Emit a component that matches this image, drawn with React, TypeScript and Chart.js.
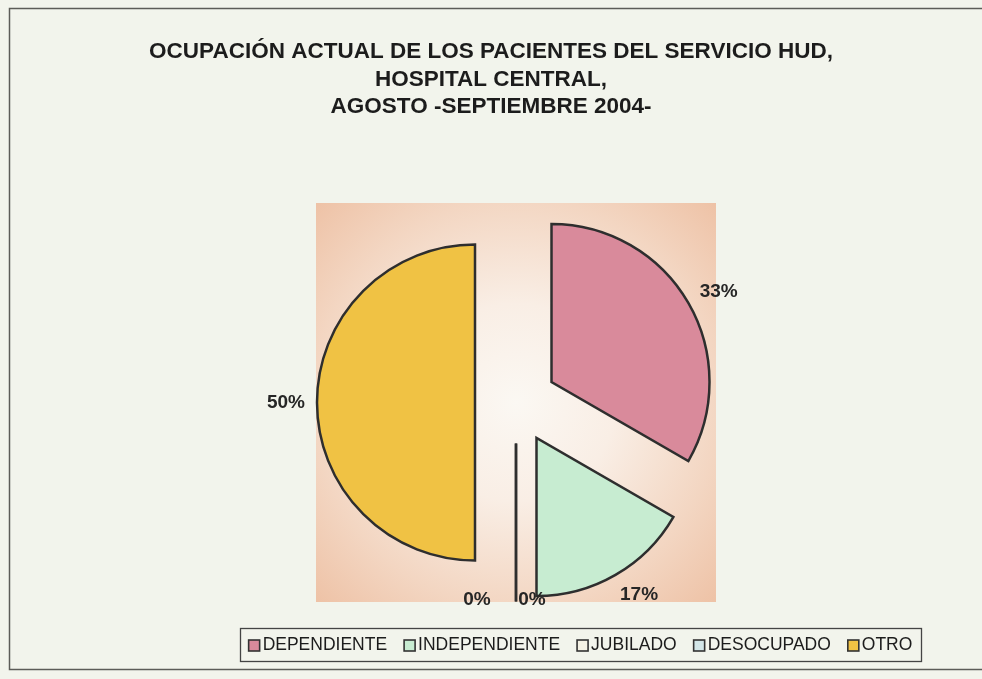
import React, { useEffect, useRef } from 'react';
import { Chart, registerables } from 'chart.js';

Chart.register(...registerables);

// ---- data ----
const TITLE_LINES = [
  'OCUPACIÓN ACTUAL DE LOS PACIENTES DEL SERVICIO HUD,',
  'HOSPITAL CENTRAL,',
  'AGOSTO -SEPTIEMBRE 2004-',
];
const CATEGORIES = ['DEPENDIENTE', 'INDEPENDIENTE', 'JUBILADO', 'DESOCUPADO', 'OTRO'];
const PATIENTS = [2, 1, 0, 0, 3];
const SLICE_COLORS = ['#d98a9b', '#c7ecd1', '#f4f1e4', '#d3e6e8', '#f0c244'];

// ---- style ----
const W = 982;
const H = 679;
const EXPLODE = 41; // px each slice is pulled out from the centre
const RADIUS = 158;
const LABEL_PAD = 16;
const LABEL_NUDGE_X = [0, 6, -39, 16, 4];
const FONT = '"Liberation Sans", Arial, Helvetica, sans-serif';

const decorPlugin = {
  id: 'decor',
  afterDatasetUpdate(chart: any, args: any) {
    // explode every slice outward along its mid angle
    args.meta.data.forEach((el: any) => {
      const mid = (el.startAngle + el.endAngle) / 2;
      el.x += Math.cos(mid) * EXPLODE;
      el.y += Math.sin(mid) * EXPLODE;
    });
  },
  beforeDraw(chart: any) {
    const { ctx, chartArea: a } = chart;
    ctx.save();
    ctx.fillStyle = '#f2f4ec';
    ctx.fillRect(0, 0, W, H);
    // outer frame
    ctx.strokeStyle = '#5c5c58';
    ctx.lineWidth = 1.5;
    ctx.strokeRect(9.5, 8.5, W + 10, H - 18);
    // plot area with radial gradient
    const cx = (a.left + a.right) / 2;
    const cy = (a.top + a.bottom) / 2;
    const g = ctx.createRadialGradient(cx, cy, 0, cx, cy, Math.hypot(a.width, a.height) / 2);
    g.addColorStop(0, '#fbf8f3');
    g.addColorStop(0.35, '#f9eee5');
    g.addColorStop(0.72, '#f3d6c2');
    g.addColorStop(1, '#eec2a6');
    ctx.fillStyle = g;
    ctx.fillRect(a.left, a.top, a.width, a.height);
    ctx.restore();
  },
  afterDatasetsDraw(chart: any) {
    // zero-value slices are drawn as a single radial line
    const { ctx } = chart;
    const meta = chart.getDatasetMeta(0);
    ctx.save();
    ctx.strokeStyle = '#2e2e2e';
    ctx.lineWidth = 2.5;
    meta.data.forEach((el: any) => {
      if (el.endAngle - el.startAngle === 0) {
        const ang = el.startAngle;
        const c = Math.cos(ang), s = Math.sin(ang);
        ctx.beginPath();
        ctx.moveTo(el.x, el.y);
        ctx.lineTo(el.x + c * el.outerRadius, el.y + s * el.outerRadius);
        ctx.stroke();
      }
    });
    ctx.restore();
  },
  afterDraw(chart: any) {
    const { ctx, chartArea: a } = chart;
    ctx.save();
    // title
    ctx.fillStyle = '#1c1c1c';
    ctx.font = `bold 22.5px ${FONT}`;
    ctx.textAlign = 'center';
    ctx.textBaseline = 'middle';
    const titleY = [52, 80, 107];
    TITLE_LINES.forEach((t, i) => ctx.fillText(t, W / 2, titleY[i]));

    // percentage labels
    const data = chart.data.datasets[0].data as number[];
    const total = data.reduce((p, v) => p + v, 0);
    const meta = chart.getDatasetMeta(0);
    ctx.font = `bold 19px ${FONT}`;
    ctx.fillStyle = '#262626';
    meta.data.forEach((el: any, i: number) => {
      const mid = (el.startAngle + el.endAngle) / 2;
      const c = Math.cos(mid), s = Math.sin(mid);
      const txt = `${Math.round((data[i] / total) * 100)}%`;
      const tw = ctx.measureText(txt).width;
      const th = 14;
      const r = el.outerRadius + LABEL_PAD;
      const lx = el.x + c * r + (c * tw) / 2 + LABEL_NUDGE_X[i];
      let ly = el.y + s * r + (s * th) / 2;
      ly = Math.min(ly, a.bottom - 2);
      ctx.fillText(txt, lx, ly);
    });

    // legend
    const box = { l: 240, t: 628, r: 921, b: 661 };
    ctx.strokeStyle = '#444';
    ctx.lineWidth = 1.3;
    ctx.strokeRect(box.l + 0.5, box.t + 0.5, box.r - box.l, box.b - box.t);
    ctx.font = `17.5px ${FONT}`;
    ctx.textAlign = 'left';
    const sw = 11, gap = 3, sep = 17;
    const widths = CATEGORIES.map((c) => sw + gap + ctx.measureText(c).width);
    const totalW = widths.reduce((p, v) => p + v, 0) + sep * (CATEGORIES.length - 1);
    let x = (box.l + box.r) / 2 - totalW / 2;
    const my = (box.t + box.b) / 2 + 1;
    const colors = chart.data.datasets[0].backgroundColor as string[];
    CATEGORIES.forEach((c, i) => {
      ctx.fillStyle = colors[i];
      ctx.fillRect(x, my - sw / 2, sw, sw);
      ctx.strokeStyle = '#333';
      ctx.lineWidth = 1.6;
      ctx.strokeRect(x, my - sw / 2, sw, sw);
      ctx.fillStyle = '#1c1c1c';
      ctx.fillText(c, x + sw + gap, my);
      x += widths[i] + sep;
    });
    ctx.restore();
  },
};

export default function App() {
  const ref = useRef<HTMLCanvasElement>(null);
  useEffect(() => {
    if (!ref.current) return;
    const chart = new Chart(ref.current, {
      type: 'pie',
      data: {
        labels: CATEGORIES,
        datasets: [
          {
            data: PATIENTS,
            backgroundColor: SLICE_COLORS,
            borderColor: '#2e2e2e',
            borderWidth: 2.5,
            borderJoinStyle: 'miter',
            offset: 0,
          } as any,
        ],
      },
      options: {
        responsive: false,
        animation: false,
        events: [],
        radius: RADIUS,
        layout: { padding: { left: 316, right: W - 716, top: 203, bottom: H - 602 } },
        plugins: {
          legend: { display: false },
          title: { display: false },
          tooltip: { enabled: false },
        },
      } as any,
      plugins: [decorPlugin],
    });
    return () => chart.destroy();
  }, []);
  return (
    <div style={{ position: 'fixed', left: 0, top: 0, width: W, height: H }}>
      <canvas ref={ref} width={W} height={H} style={{ display: 'block' }} />
    </div>
  );
}
